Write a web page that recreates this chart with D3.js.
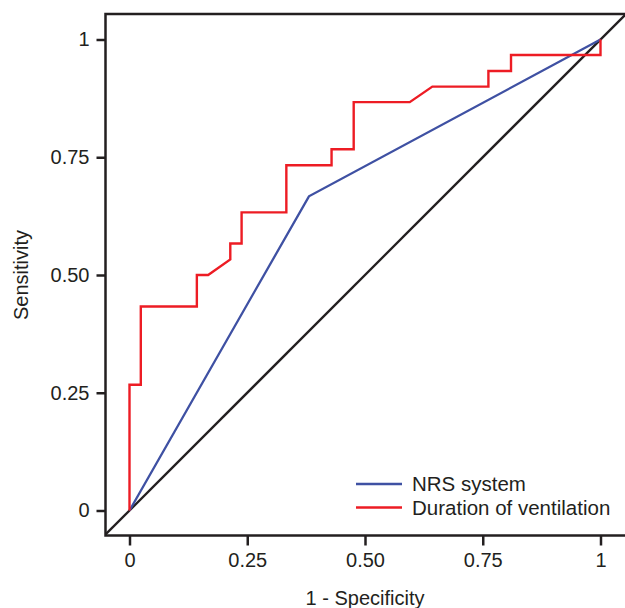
<!DOCTYPE html>
<html>
<head>
<meta charset="utf-8">
<script src="https://cdn.jsdelivr.net/npm/d3@7"></script>
<style>
  body { margin: 0; background: #fff; }
  text { font-family: "Liberation Sans", Arial, sans-serif; fill: #231f20; }
</style>
</head>
<body>
<svg id="graph" width="625" height="608"></svg>
<script>
// ROC data (1 - specificity, sensitivity)
var nrsX = [0, 0.381, 1];
var nrsY = [0, 0.667, 1];

var ventX = [0, 0, 0.024, 0.024, 0.143, 0.143, 0.167, 0.214, 0.214, 0.238, 0.238, 0.333, 0.333,
             0.429, 0.429, 0.476, 0.476, 0.595, 0.643, 0.762, 0.762, 0.810, 0.810, 1, 1];
var ventY = [0, 0.267, 0.267, 0.433, 0.433, 0.5, 0.5, 0.533, 0.567, 0.567, 0.633, 0.633, 0.733,
             0.733, 0.767, 0.767, 0.867, 0.867, 0.9, 0.9, 0.933, 0.933, 0.967, 0.967, 1];

var ticks = [0, 0.25, 0.5, 0.75, 1];
var tickLabels = ["0", "0.25", "0.50", "0.75", "1"];
var seriesNames = ["NRS system", "Duration of ventilation"];
var seriesColors = ["#3f51a3", "#ed1c24"];

var svg = d3.select("#graph");
var x = d3.scaleLinear().domain([0, 1]).range([129.5, 600.5]);
var y = d3.scaleLinear().domain([0, 1]).range([510.5, 39.5]);

var fx0 = 105.5, fx1 = 640, fy0 = 14, fy1 = 535.5;
var ink = "#231f20";

svg.append("clipPath").attr("id", "clip")
    .append("rect").attr("x", fx0).attr("y", fy0)
    .attr("width", fx1 - fx0).attr("height", fy1 - fy0);

// axes
var yAxis = d3.axisLeft(y).tickValues(ticks)
    .tickFormat(function(d, i) { return tickLabels[i]; })
    .tickSize(9).tickPadding(7);
var xAxis = d3.axisBottom(x).tickValues(ticks)
    .tickFormat(function(d, i) { return tickLabels[i]; })
    .tickSize(10).tickPadding(7);

var gy = svg.append("g").attr("transform", "translate(" + fx0 + ",0)").call(yAxis);
var gx = svg.append("g").attr("transform", "translate(0," + fy1 + ")").call(xAxis);
[gx, gy].forEach(function(g) {
    g.select(".domain").remove();
    g.selectAll(".tick line").attr("stroke", ink).attr("stroke-width", 2.5);
    g.selectAll(".tick text").attr("font-size", 20).style("fill", ink);
});

// frame
svg.append("rect")
    .attr("x", fx0).attr("y", fy0)
    .attr("width", fx1 - fx0).attr("height", fy1 - fy0)
    .attr("fill", "none").attr("stroke", ink).attr("stroke-width", 2.5);

var plot = svg.append("g").attr("clip-path", "url(#clip)");

// reference diagonal
plot.append("line")
    .attr("x1", x(-0.2)).attr("y1", y(-0.2))
    .attr("x2", x(1.2)).attr("y2", y(1.2))
    .attr("stroke", ink).attr("stroke-width", 2.3);

var line = d3.line()
    .x(function(d) { return x(d[0]); })
    .y(function(d) { return y(d[1]); });

plot.append("path")
    .datum(d3.zip(nrsX, nrsY))
    .attr("d", line)
    .attr("fill", "none").attr("stroke", seriesColors[0]).attr("stroke-width", 2.3);

plot.append("path")
    .datum(d3.zip(ventX, ventY))
    .attr("d", line)
    .attr("fill", "none").attr("stroke", seriesColors[1]).attr("stroke-width", 2.4);

// axis titles
svg.append("text")
    .attr("x", x(0.5)).attr("y", 605)
    .attr("text-anchor", "middle").attr("font-size", 20)
    .text("1 - Specificity");

svg.append("text")
    .attr("transform", "translate(28," + y(0.5) + ") rotate(-90)")
    .attr("text-anchor", "middle").attr("font-size", 20)
    .text("Sensitivity");

// legend
var legend = svg.append("g").selectAll("g")
    .data(seriesNames)
    .enter()
    .append("g")
    .attr("transform", function(d, i) { return "translate(356," + (484 + i * 23.5) + ")"; });

legend.append("line")
    .attr("x1", 0).attr("x2", 46)
    .attr("stroke", function(d, i) { return seriesColors[i]; })
    .attr("stroke-width", 2.4);

legend.append("text")
    .attr("x", 56).attr("y", 7)
    .attr("font-size", 20.5)
    .text(function(d) { return d; });
</script>
</body>
</html>
